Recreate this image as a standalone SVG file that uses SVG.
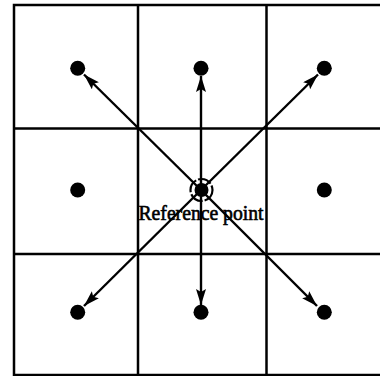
<svg xmlns="http://www.w3.org/2000/svg" width="380" height="376" viewBox="0 0 380 376">
<style>
.grid{stroke:#000;stroke-width:2.5;fill:none}
.dot{fill:#000}
.arr{stroke:#000;stroke-width:2.4;fill:none;marker-end:url(#ah)}
.lbl{font-family:"Liberation Serif","Times New Roman",serif;font-size:20px;fill:#000;stroke:#000;stroke-width:0.6}
</style>
<defs>
<marker id="ah" markerUnits="userSpaceOnUse" markerWidth="17" markerHeight="11" refX="16" refY="5" orient="auto">
<path d="M0,0 L16,5 L0,10 L3,5 z" fill="#000"/>
</marker>
</defs>
<rect width="380" height="376" fill="#fff"/>
<g id="grid">
<rect class="grid" x="14" y="5" width="390" height="370" stroke-width="3"/>
<line class="grid" x1="138" y1="5" x2="138" y2="376"/>
<line class="grid" x1="266.5" y1="5" x2="266.5" y2="376"/>
<line class="grid" x1="14" y1="128.5" x2="380" y2="128.5"/>
<line class="grid" x1="14" y1="254" x2="380" y2="254"/>
</g>
<g id="connectors">
<line class="arr" x1="201" y1="190" x2="201" y2="76"/>
<line class="arr" x1="201" y1="190" x2="201" y2="305"/>
<line class="arr" x1="201" y1="190" x2="84" y2="74.5"/>
<line class="arr" x1="201" y1="190" x2="318" y2="74.5"/>
<line class="arr" x1="201" y1="190" x2="84" y2="306"/>
<line class="arr" x1="201" y1="190" x2="317" y2="306"/>
</g>
<g id="points">
<circle class="dot" cx="77.7" cy="68.3" r="7.5"/>
<circle class="dot" cx="201" cy="68.3" r="7.5"/>
<circle class="dot" cx="324.3" cy="68.3" r="7.5"/>
<circle class="dot" cx="77.7" cy="190" r="7.5"/>
<circle class="dot" cx="324.3" cy="190" r="7.5"/>
<circle class="dot" cx="77.7" cy="312.3" r="7.5"/>
<circle class="dot" cx="201" cy="312.3" r="7.5"/>
<circle class="dot" cx="324.3" cy="312.3" r="7.5"/>
</g>
<g id="reference">
<circle cx="201.5" cy="190" r="11" fill="none" stroke="#000" stroke-width="2.2" stroke-dasharray="14 2"/>
<circle class="dot" cx="201.5" cy="190" r="7"/>
<text class="lbl" x="201" y="220" text-anchor="middle" textLength="125" lengthAdjust="spacingAndGlyphs">Reference point</text>
</g>
</svg>
